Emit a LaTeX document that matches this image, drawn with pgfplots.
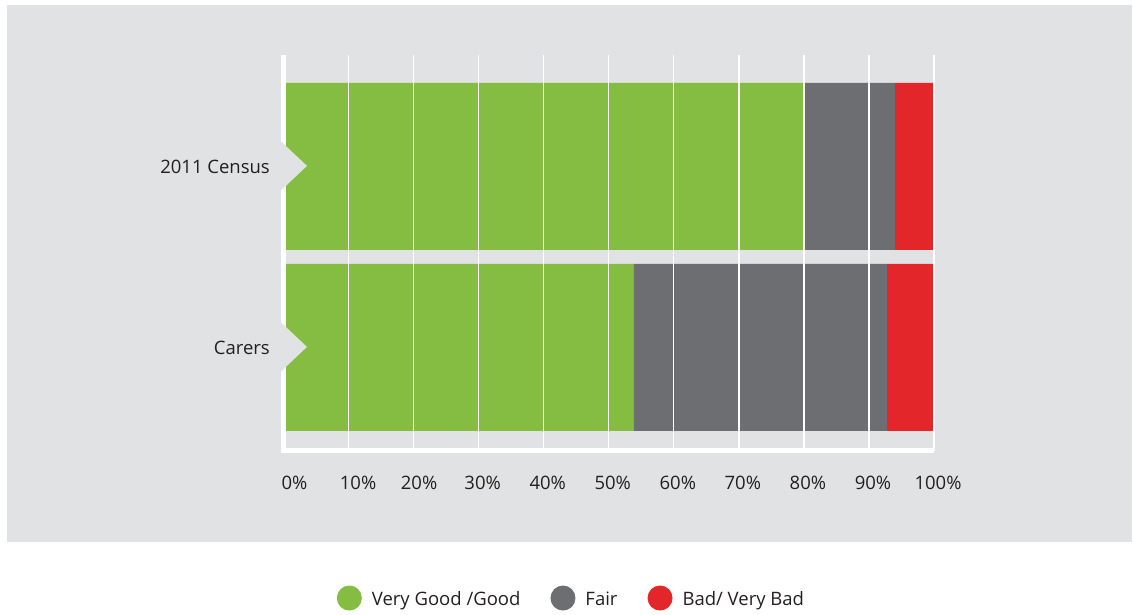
\documentclass[border=0pt]{standalone}
\usepackage{pgfplots}
\pgfplotsset{compat=1.18}
\usepackage{fontspec}
\setmainfont{Open Sans}
\usetikzlibrary{calc}
\definecolor{bg}{HTML}{E1E2E3}
\definecolor{cgreen}{HTML}{84BD41}
\definecolor{cgray}{HTML}{6D6E71}
\definecolor{cred}{HTML}{E2262A}
\definecolor{txt}{HTML}{231F20}
\begin{document}
\begin{tikzpicture}[x=1pt,y=1pt]
\useasboundingbox (0,0) rectangle (1133,-614);
\fill[bg] (7,-5) rectangle (1132,-541.5);
\begin{axis}[
  name=ax,
  at={(283.5pt,-450.5pt)}, anchor=south west,
  scale only axis, width=650.5pt, height=395.5pt,
  xbar stacked, bar width=0.9227,
  xmin=0, xmax=100, ymin=-0.5696, ymax=1.6155,
  ytick={0,1}, yticklabels={Carers, 2011 Census},
  xtick={0,10,...,100},
  xticklabels={\hspace{14pt}0\%,\hspace{11pt}10\%,\hspace{3pt}20\%,30\%,40\%,50\%,60\%,70\%,80\%,90\%,100\%},
  major tick length=0pt,
  axis line style={draw=none},
  xmajorgrids, grid style={white, line width=1.3pt},
  axis on top,
  tick label style={font=\fontsize{18.5}{20}\selectfont, text=txt},
  xticklabel style={inner sep=0pt, anchor=north, yshift=-25.5pt, xshift=4pt},
  yticklabel style={inner sep=0pt, anchor=east, xshift=-13.5pt},
  legend columns=3,
  legend style={draw=none, fill=none, at={(0.4427,-0.373)}, anchor=center,
    font=\fontsize{18.5}{20}\selectfont, text=txt,
    /tikz/every even column/.append style={column sep=28pt},
    /tikz/every odd column/.append style={column sep=8pt}},
  legend image code/.code={\fill[#1, draw=none] (0pt,0pt) circle (12.5pt);},
]
\addplot[fill=cgreen, draw=none] coordinates {(80,1) (53.8,0)};
\addplot[fill=cgray, draw=none] coordinates {(14,1) (39,0)};
\addplot[fill=cred, draw=none] coordinates {(6,1) (7.2,0)};
\legend{\raisebox{-2pt}{Very Good /Good}, \raisebox{-2pt}{Fair}, \raisebox{-2pt}{Bad/ Very Bad}}
\coordinate (cA) at (axis cs:0,1);
\coordinate (cB) at (axis cs:0,0);
\end{axis}
\draw[white, line width=5pt] (ax.north west) -- ($(ax.south west)+(0,-2.5pt)$);
\draw[white, line width=5pt] ($(ax.south west)+(-2.5pt,0)$) -- (ax.south east);
\foreach \c in {cA,cB}{
  \fill[bg] ($(\c)+(-3pt,25.5pt)$) -- ($(\c)+(23.5pt,0.5pt)$) -- ($(\c)+(-3pt,-24.5pt)$) -- cycle;
}
\end{tikzpicture}
\end{document}
